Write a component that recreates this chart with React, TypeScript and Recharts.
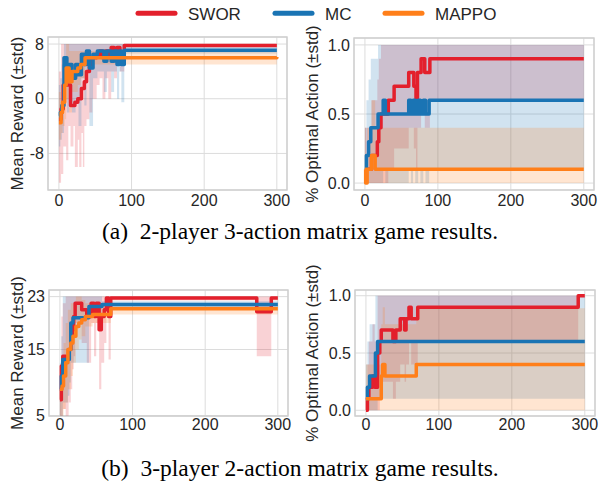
import React from 'react';
import {
  ComposedChart,
  Line,
  Area,
  XAxis,
  YAxis,
  CartesianGrid,
  ReferenceArea,
} from 'recharts';

// colours of the three methods
const RED = '#e3202c';
const BLUE = '#1a74b4';
const ORANGE = '#ff7f1a';

const X_TICKS = [0, 100, 200, 300];
const X_DOMAIN = [-15, 314];

const REWARD_A_TICKS = [-8, 0, 8];
const REWARD_B_TICKS = [5, 15, 23];
const OPT_TICKS = [0, 0.5, 1];

// every point: [episode, mean, mean - std, mean + std], held until the next point

// (a) 2-player 3-action, mean reward
const rewardA_SWOR = [
  [0, -3, -12.3, 4], [3, -1.5, -11, 8], [6, 2, -7, 8], [10, 2, -9, 8],
  [13, 2, -4, 8], [16, -1, -7, 8], [20, -1, -4, 8], [22, -0.5, -10, 8],
  [26, 0, -6, 8], [28, 0, -10, 8], [31, 1.5, -5, 8], [33, 1.5, -10, 8],
  [35, 2.5, -4, 8], [38, 4, -3, 8], [42, 5, -2, 8], [46, 6, 0, 8],
  [52, 6.5, 2, 8], [56, 7, 3, 8], [60, 6, 0, 8], [64, 7, 3, 8],
  [68, 6, 0, 8], [72, 7.5, 4, 8], [76, 6.5, 3, 8], [80, 7.5, 5, 8],
  [84, 6.5, 4, 8], [90, 7.8, 7.6, 8], [300, 7.8, 7.6, 8],
];
const rewardA_MC = [
  [0, -2.5, -7, 2], [2, -2, -6, 3], [4, -1, -5, 5], [7, 6, 2, 8],
  [11, 3, -2, 8], [14, 5, 1, 8], [18, 3, -2, 8], [23, 5, 0, 8],
  [27, 3.5, -4, 8], [31, 6.5, 3, 8], [35, 5, -1, 8], [38, 7, 4, 8],
  [42, 4.5, -4, 8], [47, 6.5, 3, 8], [53, 7, 4, 8], [62, 5.5, 1, 8],
  [66, 7, 4, 8], [72, 5.5, 1, 8], [76, 7, 4, 8], [80, 5, 0, 8],
  [83, 7, 4, 8], [86, 5, -0.5, 8], [90, 7.1, 6.6, 7.6], [300, 7.1, 6.6, 7.6],
];
const rewardA_MAPPO = [
  [0, -3.5, -6, 1], [3, -2, -5, 2], [5, -0.5, -4, 4], [8, 2, -3, 6],
  [10, 4.5, 0, 8], [14, 2.5, -2, 7], [18, 4, 1, 7], [26, 4.5, 2, 7],
  [30, 5, 3, 7], [36, 6, 5, 7], [300, 6.1, 5.6, 6.6],
];

// (a) 2-player 3-action, optimal action share
const optA_SWOR = [
  [0, 0.1, 0, 0.4], [9, 0.2, 0, 0.6], [17, 0.3, 0, 0.75], [19, 0.4, 0, 0.9],
  [22, 0.5, 0, 1], [32, 0.6, 0.1, 1], [40, 0.7, 0.25, 1], [60, 0.8, 0.4, 1],
  [67, 0.7, 0.25, 1], [70, 0.6, 0.1, 1], [72, 0.8, 0.4, 1], [77, 0.9, 0.6, 1],
  [82, 0.8, 0.4, 1], [89, 0.9, 0.6, 1], [300, 0.9, 0.6, 1],
];
const optA_MC = [
  [0, 0.1, 0, 0.4], [2, 0.2, 0, 0.6], [5, 0.3, 0, 0.75], [8, 0.4, 0, 0.9],
  [18, 0.5, 0, 1], [25, 0.6, 0.1, 1], [28, 0.5, 0, 1], [60, 0.6, 0.1, 1],
  [63, 0.5, 0, 1], [66, 0.6, 0.1, 1], [69, 0.5, 0, 1], [73, 0.6, 0.1, 1],
  [76, 0.5, 0, 1], [80, 0.6, 0.1, 1], [83, 0.5, 0, 1], [88, 0.6, 0.1, 1],
  [300, 0.6, 0.1, 1],
];
const optA_MAPPO = [
  [0, 0.1, 0, 0.4], [1, 0, 0, 0], [3, 0.1, 0, 0.4], [9, 0.2, 0, 0.6],
  [14, 0.1, 0, 0.4], [300, 0.1, 0, 0.4],
];

// (b) 3-player 2-action, mean reward
const rewardB_SWOR = [
  [0, 7.4, 5, 10], [2, 12.5, 5, 20], [4, 14, 6, 22], [8, 13.5, 5, 23],
  [12, 15, 7, 23], [15, 16, 9, 23], [17, 18, 12, 23], [19, 20, 14, 23],
  [21, 22, 19, 23], [30, 21, 16, 23], [37, 20, 13, 23], [43, 22, 19, 23],
  [47, 20, 14, 23], [50, 22, 19, 23], [54, 18, 9, 23], [57, 20, 13, 23],
  [61, 21, 16, 23], [64, 22.8, 22.4, 23], [67, 20, 13.5, 23], [70, 22.8, 22.4, 23],
  [271, 20.7, 14, 23], [291, 22.8, 22.4, 23], [300, 22.8, 22.4, 23],
];
const rewardB_MC = [
  [0, 9, 5, 13], [2, 11, 5, 17], [4, 13.5, 7, 23], [11, 13.5, 8, 23],
  [13, 15, 10, 23], [15, 19, 13, 23], [18, 19.8, 13, 23], [40, 21.5, 20, 23],
  [58, 21.8, 21.3, 22.3], [300, 21.8, 21.3, 22.3],
];
const rewardB_MAPPO = [
  [0, 9, 5, 12], [3, 9.5, 5, 14], [5, 11, 6, 16], [8, 13, 7, 19],
  [11, 15, 9, 21], [15, 16, 11, 22], [18, 17, 13, 22], [22, 18.5, 15, 23],
  [26, 19, 16.5, 23], [30, 19.5, 17, 22.5], [35, 20, 18.5, 22], [45, 20.3, 19, 21.8],
  [70, 21.15, 20.3, 22], [300, 21.15, 20.3, 22],
];

// (b) 3-player 2-action, optimal action share
const optB_SWOR = [
  [0, 0, 0, 0], [2, 0.1, 0, 0.4], [4, 0.2, 0, 0.6], [9, 0.3, 0, 0.75],
  [12, 0.2, 0, 0.6], [16, 0.5, 0, 1], [19, 0.6, 0.1, 1], [21, 0.7, 0.25, 1],
  [37, 0.6, 0.1, 1], [41, 0.7, 0.25, 1], [47, 0.8, 0.4, 1], [53, 0.7, 0.25, 1],
  [55, 0.8, 0.4, 1], [59, 0.9, 0.6, 1], [62, 0.8, 0.4, 1], [71, 0.9, 0.6, 1],
  [291, 1, 1, 1], [300, 1, 1, 1],
];
const optB_MC = [
  [0, 0.1, 0, 0.4], [2, 0.2, 0, 0.6], [5, 0.3, 0, 0.75], [13, 0.5, 0, 1],
  [16, 0.6, 0.1, 1], [300, 0.6, 0.1, 1],
];
const optB_MAPPO = [
  [0, 0.1, 0, 0.4], [21, 0.3, 0, 0.75], [23, 0.4, 0, 0.9], [26, 0.3, 0, 0.75],
  [69, 0.4, 0, 0.89], [300, 0.4, 0, 0.89],
];

const METHODS = ['SWOR', 'MC', 'MAPPO'];
const COLORS = [RED, BLUE, ORANGE];

const SANS = '"Liberation Sans", Arial, sans-serif';
const SERIF = '"Liberation Serif", "Times New Roman", serif';
const INK = '#262626';

const toRows = (pts: number[][]) =>
  pts.map(([x, m, lo, hi]) => ({ x, m, band: [lo, hi] }));

interface PanelProps {
  left: number;
  top: number;
  width: number;
  height: number;
  margin: { top: number; right: number; bottom: number; left: number };
  yWidth: number;
  yDomain: number[];
  yTicks: number[];
  yFormat?: (v: number) => string;
  yLabel: string;
  labelX: number;
  xPad: number;
  runs: number[][][];
}

function Panel(p: PanelProps) {
  const plotBottom = p.height - p.margin.bottom - 25;
  const midY = (p.margin.top + plotBottom) / 2;
  const tick = { fontSize: 16, fill: INK, fontFamily: SANS };
  return (
    <div style={{ position: 'absolute', left: p.left, top: p.top }}>
      <ComposedChart width={p.width} height={p.height} margin={p.margin}>
        <CartesianGrid stroke="#dcdcdc" strokeWidth={1} />
        <XAxis
          type="number"
          dataKey="x"
          domain={X_DOMAIN}
          ticks={X_TICKS}
          interval={0}
          allowDataOverflow
          axisLine={false}
          tickLine={false}
          tickSize={0}
          tickMargin={p.xPad}
          height={25}
          tick={tick}
        />
        <YAxis
          type="number"
          domain={p.yDomain}
          ticks={p.yTicks}
          interval={0}
          allowDataOverflow
          axisLine={false}
          tickLine={false}
          tickSize={0}
          tickMargin={4}
          width={p.yWidth}
          tick={tick}
          tickFormatter={p.yFormat}
          label={() => (
            <text
              x={p.labelX}
              y={midY}
              transform={`rotate(-90 ${p.labelX} ${midY})`}
              textAnchor="middle"
              dominantBaseline="central"
              fontSize={17}
              fontFamily={SANS}
              fill={INK}
            >
              {p.yLabel}
            </text>
          )}
        />
        <ReferenceArea
          x1={X_DOMAIN[0]}
          x2={X_DOMAIN[1]}
          y1={p.yDomain[0]}
          y2={p.yDomain[1]}
          fill="none"
          stroke="#cfcfcf"
          strokeWidth={1.4}
          ifOverflow="visible"
        />
        {p.runs.map((pts, i) => (
          <Area
            key={`band-${i}`}
            data={toRows(pts)}
            dataKey="band"
            type="stepAfter"
            fill={COLORS[i]}
            fillOpacity={0.2}
            stroke="none"
            isAnimationActive={false}
          />
        ))}
        {p.runs.map((pts, i) => (
          <Line
            key={`mean-${i}`}
            data={toRows(pts)}
            dataKey="m"
            type="stepAfter"
            stroke={COLORS[i]}
            strokeWidth={3.5}
            strokeLinejoin="round"
            dot={false}
            activeDot={false}
            isAnimationActive={false}
          />
        ))}
      </ComposedChart>
    </div>
  );
}

const oneDecimal = (v: number) => v.toFixed(1);

export default function App() {
  const legendX = [138, 275, 385];
  return (
    <div
      style={{
        position: 'absolute',
        left: 0,
        top: 0,
        width: 600,
        height: 485,
        background: '#fff',
        overflow: 'hidden',
      }}
    >
      <svg width={600} height={485} style={{ position: 'absolute', left: 0, top: 0 }}>
        {METHODS.map((name, i) => (
          <g key={name}>
            <line
              x1={legendX[i]}
              x2={legendX[i] + 37}
              y1={13.3}
              y2={13.3}
              stroke={COLORS[i]}
              strokeWidth={5}
              strokeLinecap="round"
            />
            <text x={legendX[i] + 50} y={19.8} fontSize={17} fontFamily={SANS} fill={INK}>
              {name}
            </text>
          </g>
        ))}
        <text x={300} y={239} textAnchor="middle" fontSize={23.5} fontFamily={SERIF} fill="#000">
          (a){'\u2002'}2-player 3-action matrix game results.
        </text>
        <text x={300} y={476} textAnchor="middle" fontSize={23.5} fontFamily={SERIF} fill="#000">
          (b){'\u2002'}3-player 2-action matrix game results.
        </text>
      </svg>

      <Panel
        left={0}
        top={0}
        width={300}
        height={215}
        margin={{ top: 37, right: 13, bottom: 0, left: 4 }}
        yWidth={44}
        yDomain={[-13.35, 9.03]}
        yTicks={REWARD_A_TICKS}
        yLabel="Mean Reward (±std)"
        labelX={17.5}
        xPad={5}
        runs={[rewardA_SWOR, rewardA_MC, rewardA_MAPPO]}
      />
      <Panel
        left={300}
        top={0}
        width={300}
        height={215}
        margin={{ top: 38, right: 6, bottom: 0, left: 4 }}
        yWidth={50}
        yDomain={[-0.05, 1.05]}
        yTicks={OPT_TICKS}
        yFormat={oneDecimal}
        yLabel="% Optimal Action (±std)"
        labelX={12}
        xPad={5}
        runs={[optA_SWOR, optA_MC, optA_MAPPO]}
      />
      <Panel
        left={0}
        top={250}
        width={300}
        height={195}
        margin={{ top: 40, right: 12, bottom: 4, left: 5 }}
        yWidth={44}
        yDomain={[4.95, 24]}
        yTicks={REWARD_B_TICKS}
        yLabel="Mean Reward (±std)"
        labelX={17.5}
        xPad={3}
        runs={[rewardB_SWOR, rewardB_MC, rewardB_MAPPO]}
      />
      <Panel
        left={300}
        top={250}
        width={300}
        height={195}
        margin={{ top: 40, right: 5, bottom: 4, left: 5 }}
        yWidth={50}
        yDomain={[-0.05, 1.05]}
        yTicks={OPT_TICKS}
        yFormat={oneDecimal}
        yLabel="% Optimal Action (±std)"
        labelX={12}
        xPad={3}
        runs={[optB_SWOR, optB_MC, optB_MAPPO]}
      />
    </div>
  );
}
